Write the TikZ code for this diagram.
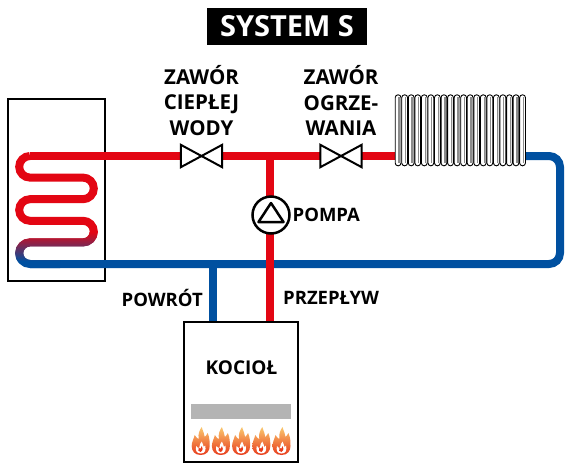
\documentclass[tikz,border=0pt]{standalone}
\usepackage{fontspec}
\setmainfont{Open Sans}
\pgfdeclarelayer{back}
\pgfdeclarelayer{pipes}
\pgfsetlayers{back,pipes,main}
\definecolor{hotred}{RGB}{227,6,19}
\definecolor{coldblue}{RGB}{0,80,160}
\definecolor{barGray}{RGB}{180,180,180}
\definecolor{finGray}{RGB}{140,140,140}
\definecolor{flameTop}{RGB}{250,200,110}
\definecolor{flameBot}{RGB}{232,60,28}
\begin{document}
\begin{tikzpicture}[x=1pt,y=-1pt,
  pipe/.style={line width=8pt},
  redpipe/.style={pipe,draw=hotred},
  bluepipe/.style={pipe,draw=coldblue},
  txt/.style={font=\bfseries\fontsize{18.5}{22}\selectfont,inner sep=0pt},
  tag/.style={font=\bfseries\fontsize{20.5}{25.5}\selectfont,align=center,inner sep=0pt},
  unit/.style={draw,line width=2.4pt,fill=white,inner sep=0pt},
  valvebox/.style={fill=white,minimum width=41pt,minimum height=22pt,inner sep=0pt},
  valvetri/.style={draw,line width=2pt,fill=white,line join=miter},
  flame/.pic={
    \shade[top color=flameTop,bottom color=flameBot]
      (0,0) .. controls (-6,0) and (-9,-4) .. (-9,-9)
      .. controls (-9,-13) and (-7,-16) .. (-6,-20)
      .. controls (-4,-17) and (-3,-16) .. (-2,-16)
      .. controls (-3,-21) and (-1,-25) .. (1,-28)
      .. controls (2,-24) and (4,-21) .. (4,-18)
      .. controls (5,-19) and (6,-20) .. (7,-22)
      .. controls (9,-17) and (9,-13) .. (9,-9)
      .. controls (9,-4) and (6,0) .. (0,0) -- cycle;
    \fill[white]
      (0,-1.5) .. controls (-4.5,-1.5) and (-5.5,-5) .. (-4.5,-9)
      .. controls (-3.5,-7.5) and (-2.5,-7) .. (-1.5,-7)
      .. controls (-1.5,-10) and (0,-12) .. (1,-13.5)
      .. controls (2,-11) and (3,-9.5) .. (3,-8)
      .. controls (3.8,-8.2) .. (4.5,-9.5)
      .. controls (5.5,-5) and (4.5,-1.5) .. (0,-1.5) -- cycle;
    \fill[flameBot]
      (0,-3) .. controls (-2.5,-3) and (-3,-5) .. (-2,-7)
      .. controls (-1,-6) .. (0,-6.5)
      .. controls (0.5,-8) .. (1,-9)
      .. controls (2,-7.5) and (2.8,-5) .. (0,-3) -- cycle;
  }]

% canvas
\begin{pgfonlayer}{back}
  \fill[white] (0,0) rectangle (565,464);
  \useasboundingbox (0,0) rectangle (565,464);
  \node[draw,line width=2.2pt,minimum width=97pt,minimum height=182pt,inner sep=0pt] (tank) at (56.5,190) {};
\end{pgfonlayer}

% title
\node[fill=black,text=white,font=\bfseries\fontsize{29}{32}\selectfont,
      minimum width=160pt,minimum height=37pt,inner sep=0pt] (title) at (287,26.5) {SYSTEM S};

% valves on the flow line
\node[valvebox] (v1) at (201.5,156) {};
\draw[valvetri] (v1.north west) -- (v1.center) -- (v1.south west) -- cycle;
\draw[valvetri] (v1.north east) -- (v1.center) -- (v1.south east) -- cycle;
\node[valvebox] (v2) at (341,156) {};
\draw[valvetri] (v2.north west) -- (v2.center) -- (v2.south west) -- cycle;
\draw[valvetri] (v2.north east) -- (v2.center) -- (v2.south east) -- cycle;

\node[tag] (v1lab) at (201.5,100.5) {ZAWÓR\\CIEPŁEJ\\WODY};
\node[tag] (v2lab) at (341,100.5) {ZAWÓR\\OGRZE-\\WANIA};

% pump
\node[circle,draw,line width=2.5pt,fill=white,minimum size=37pt,inner sep=0pt] (pump) at (271,215) {};
\draw[line width=2.5pt,line join=round,shift={(pump.center)}] (0,-12) -- (12.5,7) -- (-12.5,7) -- cycle;
\node[txt,anchor=west,font=\bfseries\fontsize{18.5}{21}\selectfont] (pumplab) at (292.5,215) {POMPA};

% radiator
\node[minimum width=131pt,minimum height=71pt,inner sep=0pt] (rad) at (460.5,130.5) {};
\foreach \i in {0,...,19}{
  \begin{scope}[shift={(rad.north west)}]
    \draw[line width=0.9pt,fill=white,rounded corners=2.8pt] (6.55*\i+0.4,0) rectangle ++(5.8,71);
    \draw[finGray,line width=1.3pt] (6.55*\i+4.2,2.5) -- ++(0,66);
  \end{scope}
}

% boiler
\node[unit,minimum width=114pt,minimum height=140pt] (boiler) at (241,392) {};
\node[txt,font=\bfseries\fontsize{19}{22}\selectfont] (boilerlab) at (241.5,368) {KOCIOŁ};
\node[fill=barGray,minimum width=100pt,minimum height=15pt,inner sep=0pt] (bar) at (241,411.5) {};
\foreach \fx in {200.7,220.9,241.1,261.3,281.5}{
  \pic at (\fx,455) {flame};
}

% pipe labels
\node[txt,anchor=east] (retlab) at (203,298) {POWRÓT};
\node[txt,anchor=west] (flowlab) at (283,298) {PRZEPŁYW};

% junction points of the pipework
\coordinate (coilin) at (30,156);
\coordinate (coilout) at (30,264);
\coordinate (teeR) at (270,156);
\coordinate (teeB) at (213,264);

\def\coilroute{(coilin) arc[start angle=270,end angle=90,radius=10.8]
  -- (83,177.6) arc[start angle=-90,end angle=90,radius=10.8]
  -- (30,199.2) arc[start angle=270,end angle=90,radius=10.8]
  -- (83,220.8) arc[start angle=-90,end angle=90,radius=10.8]
  -- (30,242.4) arc[start angle=270,end angle=90,radius=10.8]
  -- (60,264)}

\begin{pgfonlayer}{pipes}
  % return (blue)
  \draw[bluepipe,rounded corners=11pt] (coilin -| rad.east) -- (560,156) -- (560,264) -- (coilout);
  \draw[bluepipe] (teeB) -- (teeB |- boiler.north);
  % coil in the cylinder, cooling from red to blue
  \begin{scope}
    \clip (0,0) rectangle (120,232.5);
    \draw[redpipe] \coilroute;
  \end{scope}
  \foreach \k in {0,...,29}{
    \pgfmathtruncatemacro\mixp{\k*100/29}
    \colorlet{bandcol}{coldblue!\mixp!hotred}
    \begin{scope}
      \clip (0,232+\k) rectangle (120,233.4+\k);
      \draw[pipe,draw=bandcol] \coilroute;
    \end{scope}
  }
  \begin{scope}
    \clip (0,261.5) rectangle (120,300);
    \draw[bluepipe] \coilroute;
  \end{scope}
  % flow (red)
  \draw[redpipe] (coilin) -- (coilin -| rad.west);
  \draw[redpipe] (teeR) -- (teeR |- boiler.north);
\end{pgfonlayer}

\end{tikzpicture}
\end{document}
